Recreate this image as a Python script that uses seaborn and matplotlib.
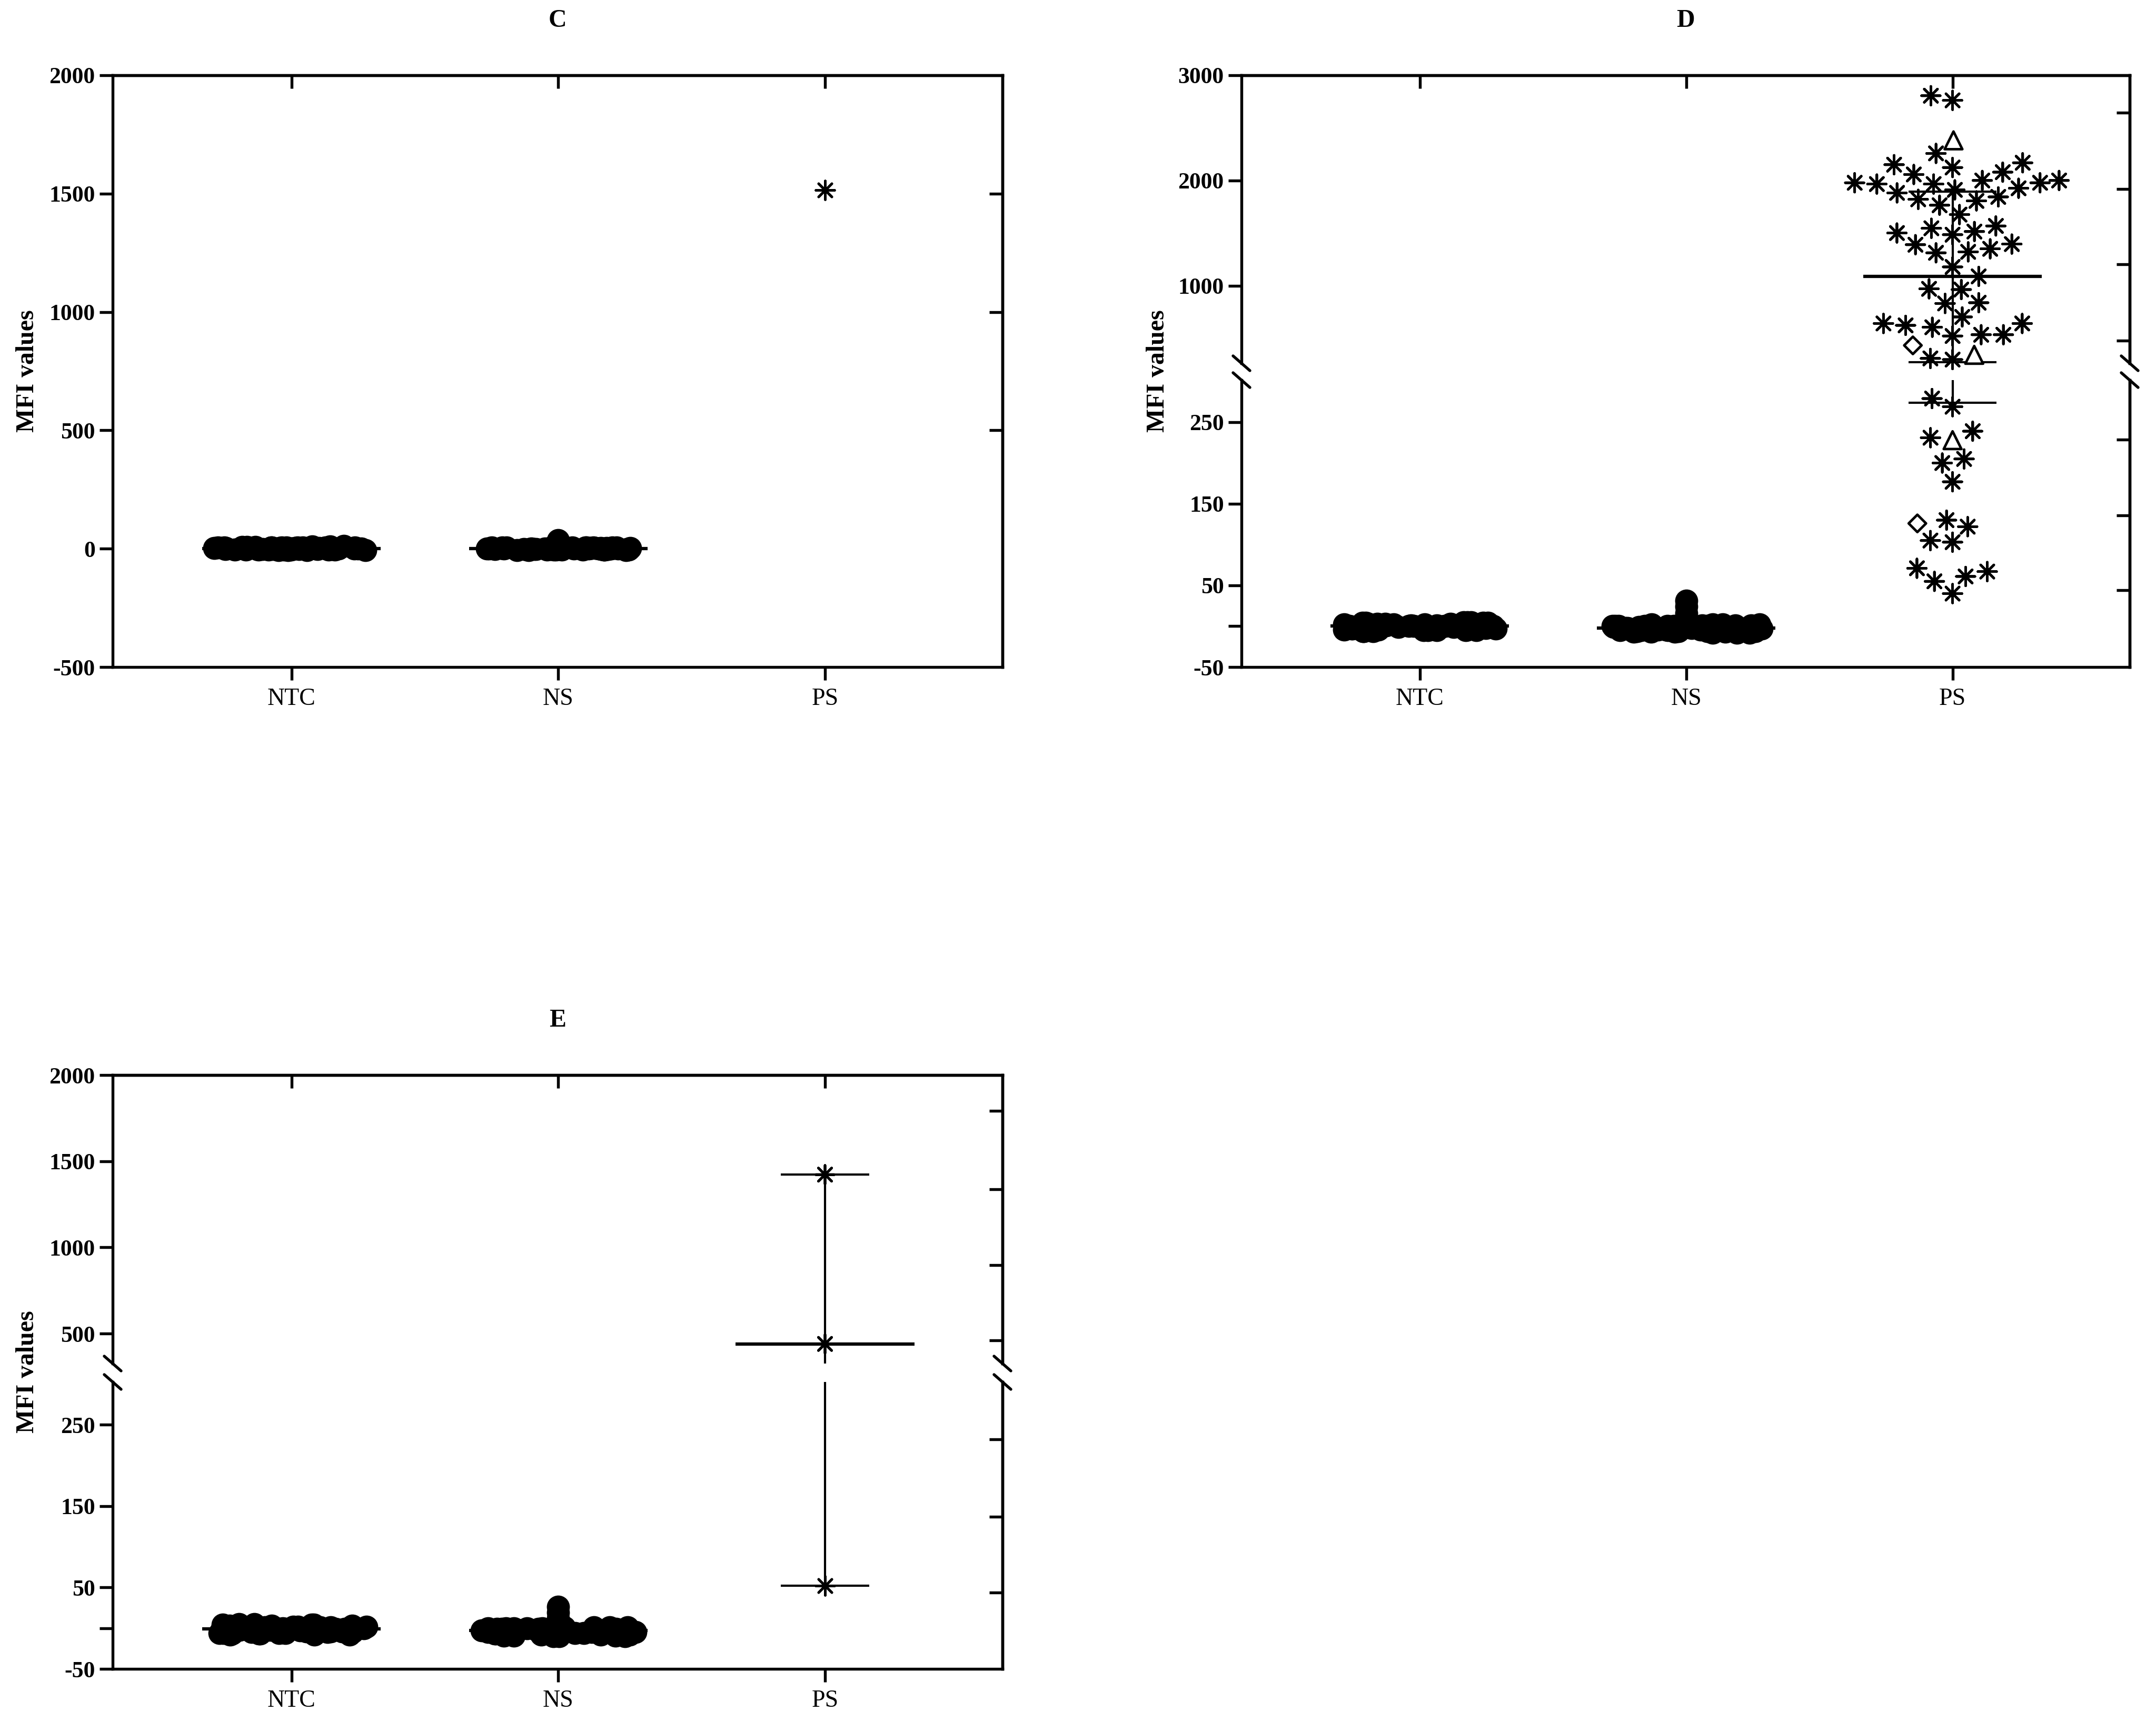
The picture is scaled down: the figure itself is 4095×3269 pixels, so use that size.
import numpy as np
import pandas as pd
import matplotlib
matplotlib.use("Agg")
import matplotlib.pyplot as plt
from matplotlib.lines import Line2D
from matplotlib.markers import MarkerStyle
from matplotlib.transforms import Affine2D
import seaborn as sns

groups = ["NTC", "NS", "PS"]

# panel C
c_ntc = [2, -3, 5, 0, -6, 4, 1, -2, 7, -4, 3, 0, -1, 6, -5, 2, 8, -3, 1, 4,
         -7, 0, 3, -2, 5, -4, 2, 10, -1, 6, -3, 1, 4, -6, 0, 12, 2, -2, 5, -1,
         3, -5, 0, 6, -2, 4, -4, 1, 7, -3, 2, -1, 9, 0, -6, 3]
c_ns = [-2, 3, -5, 1, -4, 6, 0, -3, 4, -6, 2, -1, 5, -4, 1, 3, -7, 0, 2, -3,
        6, -2, 1, -5, 4, 0, -1, 3, -4, 2, 8, -2, 0, 5, -3, -6, 1, 4, -1, 7,
        -4, 2, 0, -3, 5, -2, 3, -5, 1, 6, -1, 0, 22, 30, 36]
c_ps_star = [1515]

# panel D
d_ntc = [-3, 1, -5, 2, -1, 4, -4, 0, -6, 3, -2, 1, 5, -3, -1, 2, -5, 0, 3, -4,
         -2, 4, -6, 1, -1, 2, -3, 0, 5, -5, 3, -2, 1, -4, 0, 2, -1, -3, 4, -2,
         -5, 3, 0, -6, 2, -1, 4, -3, 1, -4, 5, -2, 0, 3, -5, 1]
d_ns = [-4, 0, -7, 1, -2, -8, -1, 2, -5, -3, 0, -6, 1, -2, -4, 2, -7, -1, -3, 0,
        -5, 1, -8, -2, -4, 0, -6, 2, -1, -3, -5, 1, -2, -7, 0, -4, -6, 1, -3, -8,
        0, -2, -5, 2, -1, -7, -4, 0, -3, 1, -6, -2, 9, 16, 24, 31]
d_ps_star = [2806, 2762, 2258, 2151, 2124, 2169,
             1912, 1967, 2001, 1979, 1967, 1979, 2001, 2058, 2080,
             1822, 1766, 1807, 1845, 1883, 1927, 1677,
             1502, 1516, 1547, 1486, 1569, 1323, 1314, 1397, 1352, 1391,
             1180, 1090, 972, 965, 840, 833, 643, 536, 625, 705, 607, 643,
             536, 524, 300, 311, 279, 269, 231, 239, 205, 200, 177,
             122, 130, 103, 105, 71, 61, 55, 67, 40]
d_ps_triangle = [2382, 345, 228]
d_ps_diamond = [435, 126]

# panel E
e_ntc = [-3, 2, -6, 0, -8, 1, -2, 4, -5, -1, 3, -4, 0, -7, 2, -3, 5, -1, -6, 1,
         -2, 3, -8, 0, -4, 2, -1, -5, 4, -3, 0, -6, 1, -2, 3, -4, -1, 2, -7, 0,
         -5, 3, -2, -8, 1, -4, 4, -1, -6, 2, 0, -3, 5, -7, 1, -2]
e_ns = [-5, -1, -8, 0, -3, -10, -2, 1, -6, -4, -1, -9, 0, -3, -5, 1, -7, -2, -4, 0,
        -6, -1, -10, -3, -5, 0, -8, 1, -2, -4, -6, 0, -3, -9, -1, -5, -7, 0, -4, -10,
        1, -2, -6, -1, -8, -3, 0, -5, -9, -2, 12, 19, 26]
e_ps_star = [1422, 440, 52]

W, H = 4095, 3269
DPI = 300
LW = 1.3
TICK_LEN = 6
DOT = 10.5

sns.set_style("ticks")
plt.rcParams["font.family"] = ["Liberation Serif", "DejaVu Serif"]
plt.rcParams["axes.edgecolor"] = "black"
plt.rcParams["xtick.color"] = "black"
plt.rcParams["ytick.color"] = "black"
plt.rcParams["text.color"] = "black"
np.random.seed(7)

fig = plt.figure(figsize=(W / DPI, H / DPI), dpi=DPI)


def make_ax(left, top, right, bottom):
    return fig.add_axes([left / W, 1 - bottom / H, (right - left) / W, (bottom - top) / H])


def marker_path(m, scale=1.0):
    ms = MarkerStyle(m)
    tr = Affine2D(ms.get_transform().get_matrix()).scale(scale)
    return ms.get_path().transformed(tr)


PATHS = {"*": marker_path((8, 2, 0)), "^": marker_path("^", 0.95), "D": marker_path("D", 0.66)}


def ps_table(star, triangle=(), diamond=()):
    return pd.DataFrame({
        "group": "PS",
        "value": list(star) + list(triangle) + list(diamond),
        "symbol": ["*"] * len(star) + ["^"] * len(triangle) + ["D"] * len(diamond),
    })


def draw_stats(ax, values, pos):
    vals = np.asarray(values, dtype=float)
    if len(vals) < 3:
        return
    q1, med, q3 = np.percentile(vals, [25, 50, 75], method="weibull")
    ax.hlines(med, pos - 0.335, pos + 0.335, color="black", lw=1.5, zorder=2)
    ax.hlines([q1, q3], pos - 0.165, pos + 0.165, color="black", lw=1.0, zorder=2)
    ax.vlines(pos, q1, q3, color="black", lw=1.0, zorder=2)


def draw_blob(ax, values, name, lo, hi, cap):
    vals = np.asarray(values, dtype=float)
    vals = vals[(vals >= lo) & (vals < hi)]
    band = pd.DataFrame({"group": name, "value": vals[vals <= cap]})
    tail = pd.DataFrame({"group": name, "value": vals[vals > cap]})
    if len(band):
        sns.stripplot(data=band, x="group", y="value", order=groups, jitter=0.29,
                      size=DOT, color="black", linewidth=0, ax=ax, zorder=1)
    if len(tail):
        sns.stripplot(data=tail, x="group", y="value", order=groups, jitter=False,
                      size=DOT, color="black", linewidth=0, ax=ax, zorder=1)


def draw_ps(ax, table, lo, hi):
    sub = table[(table["value"] >= lo) & (table["value"] < hi)].reset_index(drop=True)
    if sub.empty:
        return
    before = len(ax.collections)
    sns.swarmplot(data=sub, x="group", y="value", order=groups, marker=(8, 2, 0),
                  size=8.5, color="black", linewidth=1.15, ax=ax)
    for coll in ax.collections[before:]:
        if len(coll.get_offsets()) != len(sub):
            continue
        syms = list(sub["symbol"])
        coll.set_paths([PATHS[s] for s in syms])
        coll.set_facecolors([(0, 0, 0, 0) if s == "*" else (1, 1, 1, 1) for s in syms])
        coll.set_edgecolors("black")
        coll.set_linewidths(1.15)
        coll.set_clip_on(False)
        coll.set_zorder(3)


def style_ax(ax, ylim, yticks, ylabels, right_ticks, top_seg, bottom_seg):
    ax.set_xlim(-0.67, 2.665)
    ax.set_ylim(*ylim)
    ax.set_xlabel("")
    ax.set_ylabel("")
    for s in ax.spines.values():
        s.set_linewidth(LW)
    ax.set_yticks(yticks)
    ax.set_yticklabels(ylabels, fontsize=10.5, fontweight="bold")
    ax.tick_params(axis="y", direction="out", length=TICK_LEN, width=LW, pad=2)
    if bottom_seg:
        ax.set_xticks([0, 1, 2])
        ax.set_xticklabels(groups, fontsize=11)
        ax.tick_params(axis="x", direction="out", length=TICK_LEN, width=LW, pad=3.5)
    else:
        ax.spines["bottom"].set_visible(False)
        ax.tick_params(axis="x", bottom=False, labelbottom=False)
    if top_seg:
        sx = ax.secondary_xaxis("top")
        sx.set_xticks([0, 1, 2])
        sx.tick_params(direction="in", length=TICK_LEN, width=LW, labeltop=False)
        sx.spines["top"].set_linewidth(LW)
    else:
        ax.spines["top"].set_visible(False)
    sy = ax.secondary_yaxis("right")
    sy.set_yticks(right_ticks)
    sy.tick_params(direction="in", length=TICK_LEN, width=LW, labelright=False)
    sy.spines["right"].set_linewidth(LW)


def break_marks(xs, ys):
    for x in xs:
        for y in ys:
            fig.add_artist(Line2D([(x - 16) / W, (x + 16) / W], [1 - (y - 14) / H, 1 - (y + 14) / H],
                                  color="black", lw=LW, transform=fig.transFigure, clip_on=False))


def draw_panel(segments, ntc, ns, ps, cap):
    for ax, lo, hi in segments:
        for i, vals in enumerate([ntc, ns, list(ps["value"])]):
            draw_stats(ax, vals, i)
        draw_blob(ax, ntc, "NTC", lo, hi, cap)
        draw_blob(ax, ns, "NS", lo, hi, cap)
        draw_ps(ax, ps, lo, hi)


# ---- C ----
ax_c = make_ax(214, 143, 1904, 1267)
draw_panel([(ax_c, -np.inf, np.inf)], c_ntc, c_ns, ps_table(c_ps_star), 15)
style_ax(ax_c, (-500, 2000), [-500, 0, 500, 1000, 1500, 2000],
         ["-500", "0", "500", "1000", "1500", "2000"], [500, 1000, 1500], True, True)

# ---- D ----
ax_d1 = make_ax(2358, 143, 4045, 690)
ax_d2 = make_ax(2358, 722, 4045, 1267)
draw_panel([(ax_d1, 290, np.inf), (ax_d2, -np.inf, 290)], d_ntc, d_ns,
           ps_table(d_ps_star, d_ps_triangle, d_ps_diamond), 6)
style_ax(ax_d1, (265, 3000), [1000, 2000, 3000], ["1000", "2000", "3000"],
         [481, 1204, 1918, 2646], True, False)
style_ax(ax_d2, (-50, 301.6), [-50, 0, 50, 150, 250], ["-50", "", "50", "150", "250"],
         [44, 136, 229], False, True)
break_marks([2358, 4045], [690, 722])

# ---- E ----
ax_e1 = make_ax(214, 2042, 1904, 2590)
ax_e2 = make_ax(214, 2625, 1904, 3170)
draw_panel([(ax_e1, 310, np.inf), (ax_e2, -np.inf, 310)], e_ntc, e_ns, ps_table(e_ps_star), 8)
style_ax(ax_e1, (326, 2000), [500, 1000, 1500, 2000], ["500", "1000", "1500", "2000"],
         [460, 897, 1337, 1792], True, False)
style_ax(ax_e2, (-50, 302.4), [-50, 0, 50, 150, 250], ["-50", "", "50", "150", "250"],
         [44, 137, 232], False, True)
break_marks([214, 1904], [2590, 2625])

# titles and y labels
for txt, cx, cy in [("C", 1059, 39), ("D", 3201, 39), ("E", 1059, 1938)]:
    fig.text(cx / W, 1 - cy / H, txt, ha="center", va="center", fontsize=11.5, fontweight="bold")
for cx, cy in [(52, 705), (2199, 705), (52, 2606)]:
    fig.text(cx / W, 1 - cy / H, "MFI values", rotation=90, ha="center", va="center",
             fontsize=11.5, fontweight="bold")

fig.savefig("out.png", dpi=DPI)
